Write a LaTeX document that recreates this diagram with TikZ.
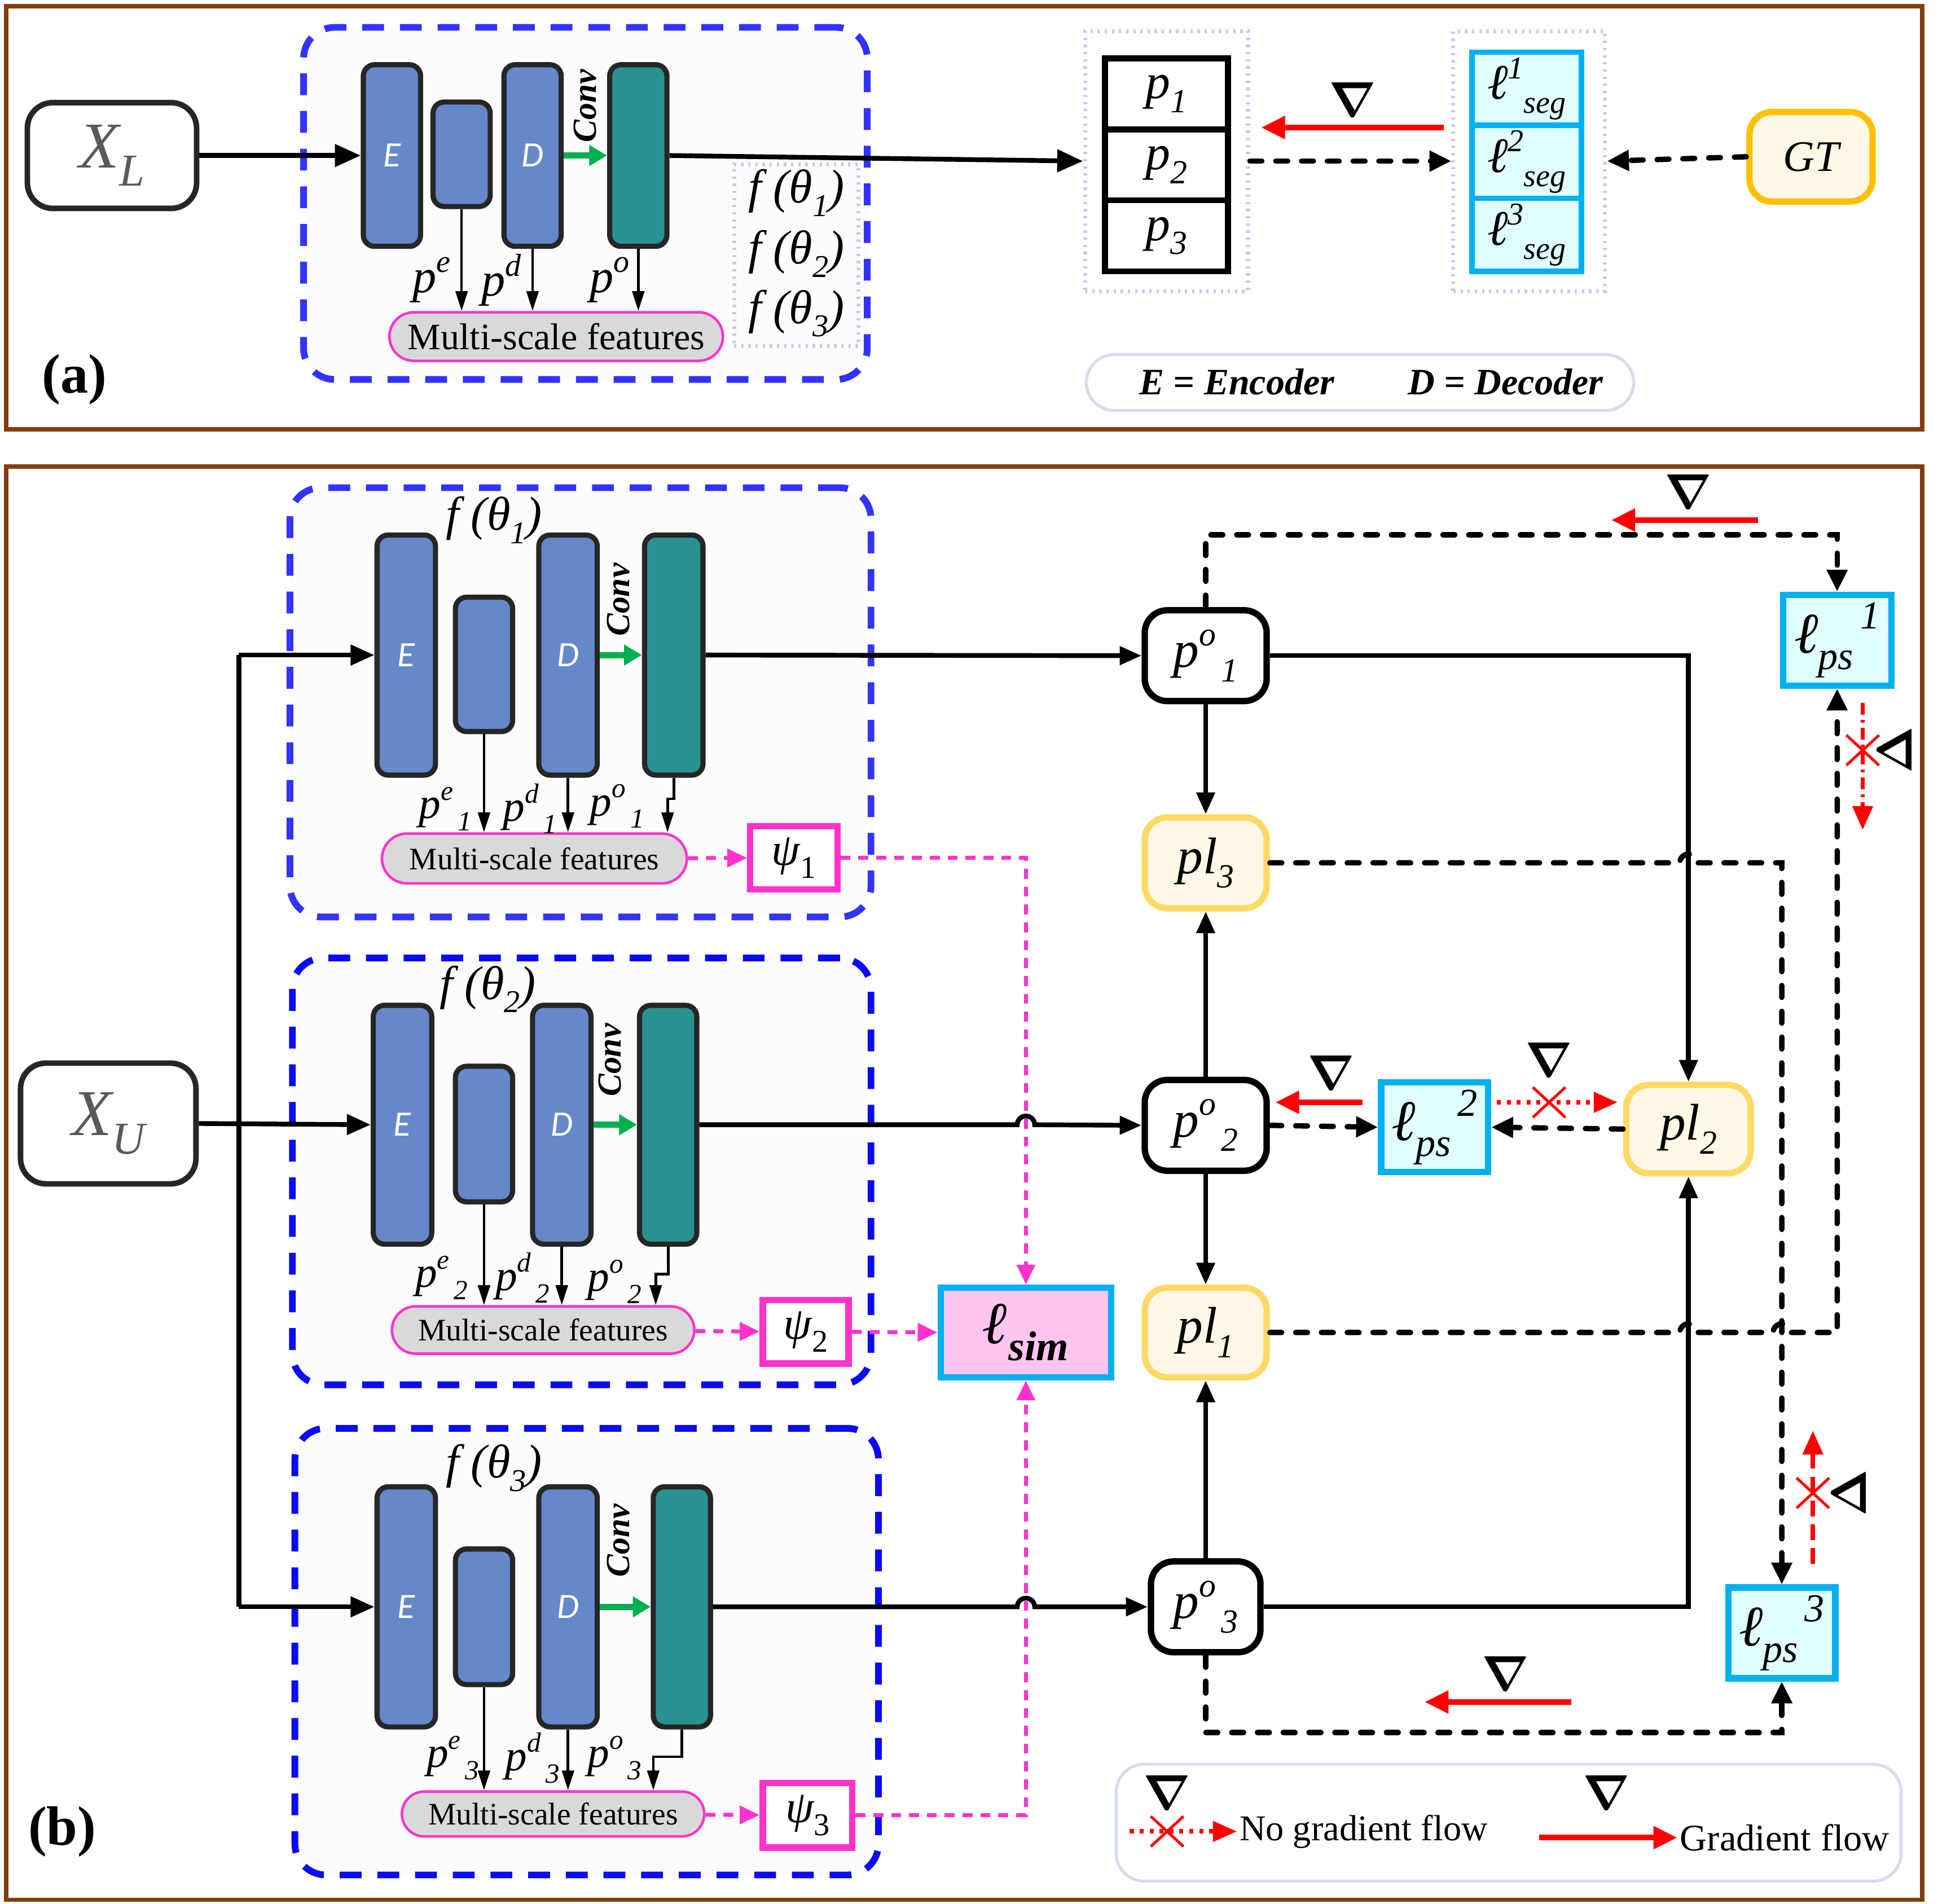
\documentclass[tikz,border=0pt]{standalone}
\usepackage{fontspec}
\setmainfont{Liberation Serif}
\newfontfamily\calibri{Carlito}
\usepackage{tikz}
\usepackage{xcolor}
\usetikzlibrary{arrows.meta, shapes.misc, positioning}

\definecolor{frameBrown}{HTML}{843C0C}
\definecolor{netBlue}{HTML}{3333FF}
\definecolor{netBlueB}{HTML}{0A0AF5}
\definecolor{netFill}{HTML}{FCFCFC}
\definecolor{blkBlue}{HTML}{6488CA}
\definecolor{blkTeal}{HTML}{299290}
\definecolor{blkEdge}{HTML}{262626}
\definecolor{convGreen}{HTML}{00B050}
\definecolor{featMag}{HTML}{FF33CC}
\definecolor{featGray}{HTML}{D9D9D9}
\definecolor{lossCyan}{HTML}{00B0F0}
\definecolor{lossFill}{HTML}{E1FEFE}
\definecolor{simPink}{HTML}{FFC5EF}
\definecolor{gtGold}{HTML}{FFC000}
\definecolor{plGold}{HTML}{FFD966}
\definecolor{plFill}{HTML}{FFF8E6}
\definecolor{dotLav}{HTML}{C9C9F2}
\definecolor{legEdge}{HTML}{D6DCEF}
\definecolor{inGray}{HTML}{595959}

\newcommand\fsz[1]{\fontsize{#1}{#1}\selectfont}
\newcommand\supx[2]{\raisebox{.42em}{\fsz{#1}#2}}
\newcommand\subx[2]{\raisebox{-.28em}{\fsz{#1}#2}}
\newcommand\nab{{\boldmath$\nabla$}}
\newcommand\blklbl[1]{{\calibri\itshape\fsz{18}\color{white}#1}}

\tikzset{
  % sizes are given in picture units
  wh/.style 2 args={minimum width=#1*0.2205mm, minimum height=#2*0.2205mm},
  panel/.style={draw=frameBrown, line width=2.2pt},
  net/.style={draw=#1, fill=netFill, line width=3.4pt, dash pattern=on 11pt off 8pt, rounded corners=5.5mm},
  net/.default=netBlue,
  inbox/.style={draw=blkEdge, line width=2.8pt, fill=white, rounded corners=4.5mm, inner sep=0pt},
  blk/.style={draw=blkEdge, line width=2.6pt, fill=blkBlue, rounded corners=2mm, inner sep=0pt},
  tblk/.style={blk, fill=blkTeal},
  convlbl/.style={rotate=90, inner sep=0pt, font=\fsz{17}\bfseries\itshape},
  pill/.style={rounded rectangle, draw=featMag, line width=1.3pt, fill=featGray, inner sep=0pt},
  psibox/.style={draw=featMag, line width=3.2pt, fill=white, inner sep=0pt, font=\fsz{23}\itshape},
  plbl/.style={inner sep=0pt, font=\fsz{22}\itshape},
  flbl/.style={inner sep=0pt, font=\fsz{24}\itshape},
  dotbox/.style={draw=dotLav, line width=2pt, dash pattern=on 1.2pt off 2.4pt},
  pcell/.style={draw=black, line width=3pt, fill=white, inner sep=0pt, wh={99}{57}, font=\fsz{25}\itshape},
  lcell/.style={draw=lossCyan, line width=2.8pt, fill=lossFill, inner sep=0pt, wh={88}{58.7}, font=\fsz{25}\itshape},
  gtbox/.style={draw=gtGold, line width=3.2pt, fill=plFill, rounded corners=4mm, inner sep=0pt, font=\fsz{22}\itshape},
  pout/.style={draw=black, line width=3.2pt, fill=white, rounded corners=4mm, inner sep=0pt, font=\fsz{26}\itshape},
  plnode/.style={draw=plGold, line width=3.2pt, fill=plFill, rounded corners=4mm, inner sep=0pt, font=\fsz{26}\itshape},
  lossbox/.style={draw=lossCyan, line width=3.2pt, fill=lossFill, inner sep=0pt, font=\fsz{29}\itshape},
  simbox/.style={draw=lossCyan, line width=3.2pt, fill=simPink, inner sep=0pt, font=\fsz{30}\bfseries\itshape},
  legbox/.style={draw=legEdge, line width=1.5pt, fill=white, rounded corners=5mm},
  xmark/.style={cross out, draw=red, line width=1.4pt, inner sep=0pt, wh={24}{22}},
  nabla/.style={inner sep=0pt, font=\fsz{30}},
  % connectors
  thk/.style={line width=2.4pt},
  link/.style={line width=2.4pt, -{Triangle[length=11pt,width=9pt]}},
  feat/.style={line width=1.3pt, -{Triangle[length=10pt,width=6pt]}},
  convarr/.style={draw=convGreen, line width=3.2pt, -{Triangle[length=9pt,width=10pt]}},
  dsh/.style={line width=2.7pt, dash pattern=on 6pt off 7pt, line cap=round, -{Triangle[length=11pt,width=10pt]}},
  magd/.style={draw=featMag, line width=2pt, dash pattern=on 5pt off 4pt, -{Triangle[length=10pt,width=9pt]}},
  grad/.style={draw=red, line width=2.8pt, -{Triangle[length=12pt,width=11pt]}},
  nograd/.style={draw=red, line width=2.2pt, dash pattern=#1, -{Triangle[length=12pt,width=10pt]}},
  nograd/.default={on 2pt off 3pt},
}

\begin{document}
\begin{tikzpicture}[x=0.2205mm, y=-0.2205mm]
\useasboundingbox (0,0) rectangle (1568,1530);

% ================= (a) supervised branch =================
\draw[panel] (5,5) rectangle (1545,345);
\node[net, wh={453}{283}] (netA) at (470.5,163.5) {};
\node[inbox, wh={136}{85}] (XL) at (90,125) {\fsz{33}\color{inGray}\itshape X\subx{23}{L}};

\node[blk, wh={46}{146}] (Ea) at (315,125) {\blklbl{E}};
\node[blk, wh={46}{84}]  (Sa) at (371,124) {};
\node[blk, wh={46}{146}] (Da) at (428,125) {\blklbl{D}};
\node[tblk, wh={46}{146}] (Ta) at (513,125) {};
\node[convlbl] (Ca) at (470,85) {Conv};
\node[pill, wh={268}{39}, font=\fsz{18.8}] (Ma) at (447,270.5) {Multi-scale features};

\draw[thk, -{Triangle[length=13pt,width=11pt]}] (XL) -- (Ea);
\draw[convarr] (Da) -- (Ta);
\draw[feat] (Sa.south) -- (Sa.south |- Ma.north);
\draw[feat] (Da.south) -- (Da.south |- Ma.north);
\draw[feat] (Ta.south) -- (Ta.south |- Ma.north);
\node[plbl, font=\fsz{24}\itshape] (pea) at (347,225) {p\supx{16}{e}};
\node[plbl, font=\fsz{24}\itshape] (pda) at (403,225) {p\supx{16}{d}};
\node[plbl, font=\fsz{24}\itshape] (poa) at (490,225) {p\supx{16}{o}};

% three models
\node[dotbox, wh={100}{146}] (fA) at (640,205) {};
\node[flbl] (fa1) at (640,155) {f (θ\subx{16}{1})};
\node[flbl] (fa2) at (640,204) {f (θ\subx{16}{2})};
\node[flbl] (fa3) at (640,252) {f (θ\subx{16}{3})};

% predictions and losses
\node[dotbox, wh={131}{209}] (pgroup) at (937.5,129.5) {};
\node[pcell] (p1) at (937.5,75.5)  {p\subx{17}{1}};
\node[pcell] (p2) at (937.5,132.5) {p\subx{17}{2}};
\node[pcell] (p3) at (937.5,189.5) {p\subx{17}{3}};
\node[dotbox, wh={122}{209}] (lgroup) at (1229,129.5) {};
\node[lcell] (l1) at (1227,71.3)  {ℓ\supx{16}{1}\subx{16}{seg}};
\node[lcell] (l2) at (1227,130)   {ℓ\supx{16}{2}\subx{16}{seg}};
\node[lcell] (l3) at (1227,188.7) {ℓ\supx{16}{3}\subx{16}{seg}};
\node[gtbox, wh={99}{72}] (GT) at (1455.5,126) {GT};

\draw[thk, -{Triangle[length=13pt,width=11pt]}] (Ta.east) -- (pgroup.west);
\draw[dsh] (pgroup.east) -- (lgroup.west);
\draw[dsh] (GT.west) -- (lgroup.east);
\coordinate (gaS) at ([shift={(-6,-27)}]lgroup.west);
\coordinate (gaE) at ([shift={(9,-27)}]pgroup.east);
\draw[grad] (gaS) -- (gaE);
\node[nabla] (nabA) at (1087,80) {\nab};

\node[legbox, wh={440}{45}] (legA) at (1093,307.5) {};
\node[inner sep=0pt, font=\fsz{18.8}\bfseries\itshape] (legAtxt) at (1102,307) {E = Encoder\hspace{13mm}D = Decoder};
\node[inner sep=0pt, font=\fsz{28}\bfseries] (labA) at (60,305) {(a)};

% ================= (b) unsupervised branch =================
\draw[panel] (5,375) rectangle (1545,1527);

% model 1
\node[net, wh={467}{345}] (N1) at (466.5,564.5) {};
\node[flbl] (f1) at (397,418) {f (θ\subx{16}{1})};
\node[blk, wh={47}{193}] (E1) at (326.5,526.5) {\blklbl{E}};
\node[blk, wh={46}{108}] (S1) at (389,534) {};
\node[blk, wh={47}{193}] (D1) at (456.5,526.5) {\blklbl{D}};
\node[tblk, wh={47}{193}] (T1) at (541.5,526.5) {};
\node[convlbl] (C1) at (497,482) {Conv};
\node[pill, wh={245}{40}, font=\fsz{15.8}] (M1) at (429.5,690) {Multi-scale features};
\node[psibox, wh={70}{51}] (psi1) at (638,689.5) {ψ\subx{16}{\upshape 1}};
\draw[convarr] (D1) -- (T1);
\draw[feat] (S1.south) -- (S1.south |- M1.north);
\draw[feat] (D1.south) -- (D1.south |- M1.north);
\draw[feat] (T1.south) -- ++(0,17) -| ([xshift=-1.1mm]T1.south |- M1.north);
\node[plbl] (pe1) at (358,650) {p\supx{14}{e}\subx{14}{\,1}};
\node[plbl] (pd1) at (426,650) {p\supx{14}{d}\subx{14}{\,1}};
\node[plbl] (po1) at (496,648) {p\supx{14}{o}\subx{14}{\,1}};
\draw[magd] (M1) -- (psi1);

% model 2
\node[net=netBlueB, wh={465}{343}] (N2) at (467.5,941.5) {};
\node[flbl] (f2) at (392,795) {f (θ\subx{16}{2})};
\node[blk, wh={47}{192}] (E2) at (323.5,904) {\blklbl{E}};
\node[blk, wh={46}{109}] (S2) at (389,911.5) {};
\node[blk, wh={47}{192}] (D2) at (451.5,904) {\blklbl{D}};
\node[tblk, wh={46}{192}] (T2) at (537,904) {};
\node[convlbl] (C2) at (490,852) {Conv};
\node[pill, wh={243}{38}, font=\fsz{15.8}] (M2) at (436.5,1069) {Multi-scale features};
\node[psibox, wh={69}{51}] (psi2) at (647.5,1070.5) {ψ\subx{16}{\upshape 2}};
\draw[convarr] (D2) -- (T2);
\draw[feat] (S2.south) -- (S2.south |- M2.north);
\draw[feat] (D2.south) -- (D2.south |- M2.north);
\draw[feat] (T2.south) -- ++(0,22) -| ([xshift=-2.2mm]T2.south |- M2.north);
\node[plbl] (pe2) at (355,1027) {p\supx{14}{e}\subx{14}{\,2}};
\node[plbl] (pd2) at (420,1027) {p\supx{14}{d}\subx{14}{\,2}};
\node[plbl] (po2) at (494,1030) {p\supx{14}{o}\subx{14}{\,2}};
\draw[magd] (M2) -- (psi2);

% model 3
\node[net=netBlueB, wh={469}{359}] (N3) at (471.5,1327.5) {};
\node[flbl] (f3) at (397,1180) {f (θ\subx{16}{3})};
\node[blk, wh={47}{193}] (E3) at (326.5,1291.5) {\blklbl{E}};
\node[blk, wh={46}{109}] (S3) at (389,1299.5) {};
\node[blk, wh={47}{193}] (D3) at (456.5,1291.5) {\blklbl{D}};
\node[tblk, wh={46}{193}] (T3) at (548,1291.5) {};
\node[convlbl] (C3) at (497,1238) {Conv};
\node[pill, wh={243}{36}, font=\fsz{15.8}] (M3) at (444.5,1458) {Multi-scale features};
\node[psibox, wh={72}{52}] (psi3) at (649,1459) {ψ\subx{16}{\upshape 3}};
\draw[convarr] (D3) -- (T3);
\draw[feat] (S3.south) -- (S3.south |- M3.north);
\draw[feat] (D3.south) -- (D3.south |- M3.north);
\draw[feat] (T3.south) -- ++(0,22) -| ([xshift=-5.07mm]T3.south |- M3.north);
\node[plbl] (pe3) at (364,1413) {p\supx{14}{e}\subx{14}{\,3}};
\node[plbl] (pd3) at (428,1413) {p\supx{14}{d}\subx{14}{\,3}};
\node[plbl] (po3) at (494,1413) {p\supx{14}{o}\subx{14}{\,3}};
\draw[magd] (M3) -- (psi3);

% input
\node[inbox, wh={141}{97}] (XU) at (87,903) {\fsz{33}\color{inGray}\itshape X\subx{23}{U}};
\coordinate (split) at (192,903);
\draw[thk] (split |- E1.west) -- (split |- E3.west);
\draw[thk, -{Triangle[length=12pt,width=10pt]}] (XU.east) -- (E2.west);
\draw[thk, -{Triangle[length=12pt,width=10pt]}] (split |- E1.west) -- (E1.west);
\draw[thk, -{Triangle[length=12pt,width=10pt]}] (split |- E3.west) -- (E3.west);

% similarity loss
\node[simbox, wh={137}{72}] (Lsim) at (824.5,1071) {ℓ\subx{21}{sim}};
\draw[magd] (psi1.east) -| (Lsim.north);
\draw[magd] (psi2.east) -- (Lsim.west);
\draw[magd] (psi3.east) -| (Lsim.south);

% outputs and pseudo labels
\node[pout, wh={98}{73}]   (PO1) at (969,527)    {p\supx{17}{o}\subx{17}{\,1}};
\node[plnode, wh={98}{73}] (PL3) at (969,693.5)  {pl\subx{17}{3}};
\node[pout, wh={98}{73}]   (PO2) at (969,904.5)  {p\supx{17}{o}\subx{17}{\,2}};
\node[plnode, wh={98}{72}] (PL1) at (969,1071)   {pl\subx{17}{1}};
\node[pout, wh={88}{73}]   (PO3) at (969,1291.5) {p\supx{17}{o}\subx{17}{\,3}};
\node[plnode, wh={100}{71}] (PL2) at (1357,907.5) {pl\subx{17}{2}};
\node[lossbox, wh={87}{73}] (LPS1) at (1476.5,514.5) {ℓ\subx{20}{ps}\supx{20}{\,1}};
\node[lossbox, wh={86}{72}] (LPS2) at (1153,906)    {ℓ\subx{20}{ps}\supx{20}{\,2}};
\node[lossbox, wh={86}{73}] (LPS3) at (1432,1312.5) {ℓ\subx{20}{ps}\supx{20}{\,3}};

\draw[link] (T1.east) -- (PO1.west);
\draw[link] (T2.east) -- ([xshift=-1.54mm]Lsim.north |- T2.east) arc[start angle=180, end angle=360, radius=7] -- (PO2.west);
\draw[link] (T3.east) -- ([xshift=-1.54mm]Lsim.north |- T3.east) arc[start angle=180, end angle=360, radius=7] -- (PO3.west);

\draw[link] (PO1) -- (PL3);
\draw[link] (PO2) -- (PL3);
\draw[link] (PO2) -- (PL1);
\draw[link] (PO3) -- (PL1);
\draw[link] (PO1.east) -| (PL2.north);
\draw[link] (PO3.east) -| (PL2.south);

\draw[dsh] (PO2.east) -- (LPS2.west);
\draw[dsh] (PL2.west) -- (LPS2.east);
\draw[dsh] (PO1.north) -- ++(0,-58) -| (LPS1.north);
\draw[dsh] (PL3.east) -- ([xshift=-1.54mm]PL2.north |- PL3.east) arc[start angle=180, end angle=360, radius=7] -| (LPS3.north);
\draw[dsh] (PL1.east) -- ([xshift=-1.54mm]PL2.north |- PL1.east) arc[start angle=180, end angle=360, radius=7]
  -- ([xshift=-1.54mm]LPS3.north |- PL1.east) arc[start angle=180, end angle=360, radius=7] -| (LPS1.south);
\draw[dsh] (PO3.south) -- ++(0,62) -| (LPS3.south);

% gradient marks
\coordinate (g1S) at (1413,418);
\coordinate (g1E) at (1295,418);
\draw[grad] (g1S) -- (g1E);
\node[nabla] (nab1) at (1357,395) {\nab};

\coordinate (g2S) at (1095,886);
\coordinate (g2E) at (1025,886);
\draw[grad] (g2S) -- (g2E);
\node[nabla] (nab2) at (1070,862) {\nab};

\coordinate (n2S) at (1203,886);
\coordinate (n2E) at (1300,886);
\draw[nograd] (n2S) -- (n2E);
\node[xmark] (x2) at (1245,886) {};
\node[nabla] (nab2b) at (1245,852) {\nab};

\coordinate (n1S) at (1497,565);
\coordinate (n1E) at (1497,667);
\draw[nograd={on 6pt off 2.5pt on 1.5pt off 2.5pt}] (n1S) -- (n1E);
\node[xmark] (x1) at (1497,603) {};
\node[nabla, rotate=-90] (nab1b) at (1523,603) {\nab};

\coordinate (n3S) at (1457,1257);
\coordinate (n3E) at (1457,1150);
\draw[nograd={on 8pt off 4pt}] (n3S) -- (n3E);
\node[xmark] (x3) at (1457,1200) {};
\node[nabla, rotate=-90] (nab3b) at (1486,1200) {\nab};

\coordinate (g3S) at (1263,1368);
\coordinate (g3E) at (1145,1368);
\draw[grad] (g3S) -- (g3E);
\node[nabla] (nab3) at (1210,1345) {\nab};

% legend
\node[legbox, wh={631}{94}] (legB) at (1212.5,1465) {};
\node[nabla] (legNab1) at (938,1441) {\nab};
\coordinate (lgNS) at (908,1472);
\coordinate (lgNE) at (994,1472);
\draw[nograd] (lgNS) -- (lgNE);
\node[xmark] (legX) at (938,1472) {};
\node[anchor=west, inner sep=0pt, font=\fsz{18.3}] (legNo) at (996,1472) {No gradient flow};
\node[nabla] (legNab2) at (1291,1441) {\nab};
\coordinate (lgGS) at (1237,1477);
\coordinate (lgGE) at (1348,1477);
\draw[grad] (lgGS) -- (lgGE);
\node[anchor=west, inner sep=0pt, font=\fsz{18.9}] (legGr) at (1350,1477) {Gradient flow};

\node[inner sep=0pt, font=\fsz{28}\bfseries] (labB) at (50,1472) {(b)};
\end{tikzpicture}
\end{document}
